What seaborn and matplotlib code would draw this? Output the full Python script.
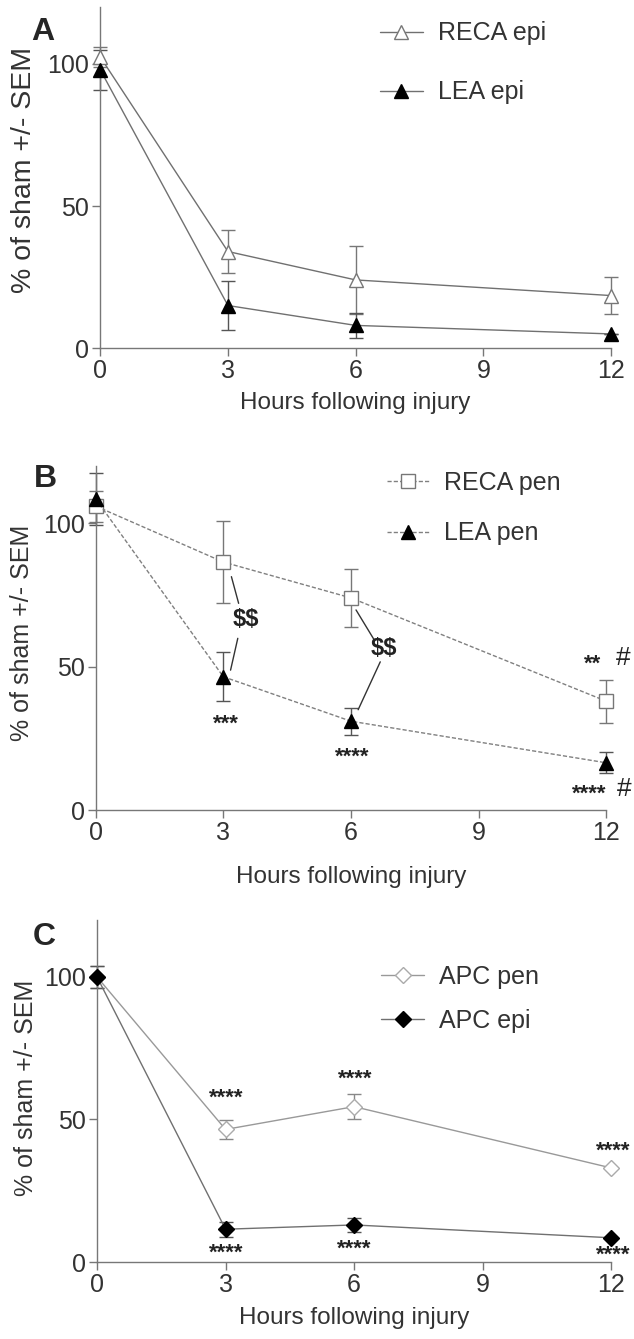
import matplotlib
matplotlib.use("Agg")
import numpy as np
import pandas as pd
import seaborn as sns
import matplotlib.pyplot as plt

# data (% of sham, SEM)
hours = [0, 3, 6, 12]

reca_epi = [102.5, 34, 24, 18.5]
reca_epi_sem = [3.5, 7.5, 12, 6.5]
lea_epi = [98, 15, 8, 5]
lea_epi_sem = [7, 8.5, 4.5, 0]

reca_pen = [106, 86.5, 74, 38]
reca_pen_sem = [5.4, 14.3, 10, 7.5]
lea_pen = [108.5, 46.5, 31, 16.5]
lea_pen_sem = [9.2, 8.6, 4.7, 3.7]

apc_pen = [100, 46.5, 54.5, 33]
apc_pen_sem = [4, 3.3, 4.5, 0]
apc_epi = [100, 11.5, 13, 8.5]
apc_epi_sem = [4, 2.7, 2.6, 0]

# significance marks (text, x, y)
marks_B = [("***", 3.07, 30), ("****", 6.04, 18.5), ("**", 11.68, 51), ("#", 12.4, 53),
           ("****", 11.6, 5.5), ("#", 12.42, 7.5)]
dollar_B = [(3.53, 66.3), (6.78, 56.4)]
links_B = [((3.19, 3.36), (81.4, 72.1)), ((3.34, 3.17), (59.9, 48.8)),
           ((6.12, 6.55), (69.8, 59.3)), ((6.69, 6.17), (51.7, 35.0))]
marks_C = [("****", 3.02, 57.5), ("****", 6.03, 64), ("****", 12.05, 39),
           ("****", 3.02, 3), ("****", 6.0, 4.5), ("****", 12.05, 2.5)]

sns.set_style("ticks")
plt.rcParams['font.family'] = ['Liberation Sans', 'DejaVu Sans']

fig = plt.figure(figsize=(6.34, 13.39), dpi=100)
axA = fig.add_axes([0.158, 0.740, 0.806, 0.2547])
axB = fig.add_axes([0.151, 0.395, 0.805, 0.257])
axC = fig.add_axes([0.153, 0.0575, 0.811, 0.2555])


def draw_series(ax, y, sem, label, marker, mfc, mec, lc, ls, ms, ec):
    sns.lineplot(x=hours, y=y, ax=ax, label=label, color=lc, linestyle=ls, linewidth=1,
                 marker=marker, markersize=ms, markerfacecolor=mfc, markeredgecolor=mec,
                 markeredgewidth=1, clip_on=False, zorder=3)
    ax.errorbar(hours, y, yerr=sem, fmt='none', ecolor=ec, elinewidth=1, capsize=5,
                capthick=1, clip_on=False, zorder=2)


draw_series(axA, reca_epi, reca_epi_sem, "RECA epi", "^", "white", "#777777", "#707070", "-", 10, "#777777")
draw_series(axA, lea_epi, lea_epi_sem, "LEA epi", "^", "black", "black", "#707070", "-", 10, "#555555")

dash = (0, (3, 1.5))
draw_series(axB, reca_pen, reca_pen_sem, "RECA pen", "s", "white", "#777777", "#808080", dash, 10, "#777777")
draw_series(axB, lea_pen, lea_pen_sem, "LEA pen", "^", "black", "black", "#808080", dash, 10, "#555555")

draw_series(axC, apc_pen, apc_pen_sem, "APC pen", "D", "white", "#aaaaaa", "#999999", "-", 8, "#888888")
draw_series(axC, apc_epi, apc_epi_sem, "APC epi", "D", "black", "black", "#707070", "-", 8, "#555555")

# annotations
for xs, ys in links_B:
    axB.plot(xs, ys, color="#333333", linewidth=1)
for x, y in dollar_B:
    axB.text(x, y, r"\$\$", fontsize=17, fontweight="bold", ha="center", va="center", color="#222222")
for t, x, y in marks_B:
    axB.text(x, y, t, fontsize=19 if t == "#" else 16, fontweight="bold" if t != "#" else "normal",
             ha="center", va="center", color="#222222", clip_on=False)
for t, x, y in marks_C:
    axC.text(x, y, t, fontsize=16, fontweight="bold", ha="center", va="center", color="#222222",
             clip_on=False)

legend_pos = {axA: (0.548, 0.958, 1.4), axB: (0.57, 0.985, 1.05), axC: (0.553, 0.868, 0.8)}
xlabel_pad = {axA: 6, axB: 15, axC: 7}
ylabel_pos = {axA: (-0.123, 0.522, 20.5), axB: (-0.12, 0.515, 18), axC: (-0.115, 0.509, 18)}

for ax in [axA, axB, axC]:
    ax.set_xlim(0, 12)
    ax.set_ylim(0, 120)
    ax.set_xticks([0, 3, 6, 9, 12])
    ax.set_yticks([0, 50, 100])
    sns.despine(ax=ax)
    for s in ["left", "bottom"]:
        ax.spines[s].set_color("#777777")
        ax.spines[s].set_linewidth(1)
    ax.tick_params(direction="out", length=6, width=1, color="#777777", labelsize=18,
                   labelcolor="#333333", pad=2)
    ax.set_xlabel("Hours following injury", fontsize=17.5, color="#333333", labelpad=xlabel_pad[ax])
    yx, yy, yfs = ylabel_pos[ax]
    ax.set_ylabel("% of sham +/- SEM", fontsize=yfs, color="#333333")
    ax.yaxis.set_label_coords(yx, yy)
    lx, ly, sp = legend_pos[ax]
    ax.legend(loc="upper left", bbox_to_anchor=(lx, ly), frameon=False, fontsize=18,
              handlelength=1.7, handletextpad=0.6, borderpad=0, borderaxespad=0,
              labelspacing=sp, labelcolor="#333333")

for letter, x, y in [("A", 43, 32), ("B", 45, 479), ("C", 44, 937)]:
    fig.text(x / 634, 1 - y / 1339, letter, fontsize=23, fontweight="bold", ha="center", va="center")

fig.savefig("out.png", dpi=100, facecolor="white")
